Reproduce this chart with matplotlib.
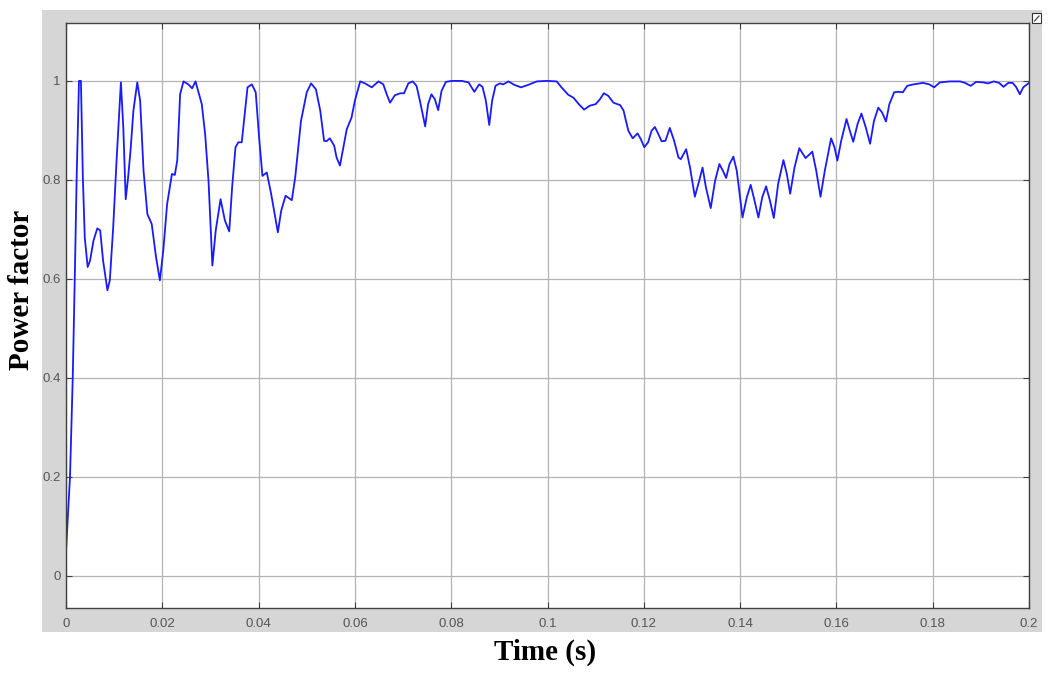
import matplotlib
matplotlib.use("Agg")
import matplotlib.pyplot as plt
from matplotlib.patches import Rectangle
from matplotlib.lines import Line2D

# ---- data ----
time_s = [0.0000, 0.00083, 0.0014, 0.0019, 0.0022, 0.0027, 0.0031, 0.0035, 0.0039, 0.0045,
          0.0050, 0.0057, 0.0065, 0.0071, 0.0077, 0.0086, 0.0091, 0.0098, 0.0105, 0.0114,
          0.0119, 0.0124, 0.0129, 0.0134, 0.0140, 0.0148, 0.0154, 0.0161, 0.0169, 0.0178,
          0.0187, 0.0195, 0.0202, 0.0210, 0.0220, 0.0226, 0.0231, 0.0237, 0.0244, 0.0254,
          0.0262, 0.0269, 0.0282, 0.0289, 0.0296, 0.0304, 0.0311, 0.0321, 0.0330, 0.0339,
          0.0345, 0.0352, 0.0358, 0.0365, 0.0372, 0.0377, 0.0386, 0.0394, 0.0401, 0.0408,
          0.0417, 0.0426, 0.0440, 0.0447, 0.0456, 0.0469, 0.0476, 0.0488, 0.0500, 0.0509,
          0.0519, 0.0528, 0.0536, 0.0541, 0.0548, 0.0557, 0.0562, 0.0569, 0.0576, 0.0583,
          0.0593, 0.0600, 0.0611, 0.0621, 0.0635, 0.0649, 0.0659, 0.0666, 0.0673, 0.0683,
          0.0694, 0.0702, 0.0711, 0.0720, 0.0728, 0.0735, 0.0746, 0.0752, 0.0759, 0.0766,
          0.0773, 0.0780, 0.0789, 0.0801, 0.0822, 0.0836, 0.0848, 0.0858, 0.0865, 0.0872,
          0.0879, 0.0885, 0.0892, 0.0901, 0.0908, 0.0919, 0.0931, 0.0945, 0.0960, 0.0978,
          0.0998, 0.1019, 0.1029, 0.1043, 0.1054, 0.1065, 0.1076, 0.1088, 0.1100, 0.1109,
          0.1117, 0.1126, 0.1137, 0.1151, 0.1158, 0.1163, 0.1168, 0.1177, 0.1187, 0.1194,
          0.1201, 0.1209, 0.1216, 0.1223, 0.1230, 0.1237, 0.1245, 0.1254, 0.1263, 0.1272,
          0.1277, 0.1288, 0.1296, 0.1306, 0.1315, 0.1322, 0.1329, 0.1339, 0.1348, 0.1357,
          0.1364, 0.1371, 0.1378, 0.1386, 0.1393, 0.1398, 0.1405, 0.1414, 0.1422, 0.1430,
          0.1438, 0.1446, 0.1454, 0.1462, 0.1470, 0.1479, 0.1490, 0.1497, 0.1504, 0.1513,
          0.1523, 0.1536, 0.1550, 0.1558, 0.1567, 0.1576, 0.1589, 0.1596, 0.1602, 0.1610,
          0.1621, 0.1628, 0.1635, 0.1644, 0.1652, 0.1661, 0.1670, 0.1678, 0.1687, 0.1695,
          0.1703, 0.1710, 0.1720, 0.1729, 0.1738, 0.1747, 0.1760, 0.1780, 0.1793, 0.1803,
          0.1815, 0.1836, 0.1857, 0.1867, 0.1879, 0.1890, 0.1905, 0.1915, 0.1927, 0.1938,
          0.1947, 0.1957, 0.1966, 0.1973, 0.1981, 0.1988, 0.2000]

power_factor = [0.050, 0.200, 0.400, 0.640, 0.800, 1.000, 1.000, 0.805, 0.683, 0.624,
                0.637, 0.677, 0.702, 0.698, 0.637, 0.577, 0.597, 0.704, 0.839, 0.997,
                0.906, 0.761, 0.805, 0.859, 0.940, 0.997, 0.960, 0.819, 0.731, 0.711,
                0.644, 0.597, 0.657, 0.751, 0.812, 0.810, 0.839, 0.973, 0.999, 0.993,
                0.985, 0.999, 0.953, 0.892, 0.798, 0.627, 0.698, 0.761, 0.718, 0.696,
                0.785, 0.866, 0.876, 0.876, 0.940, 0.987, 0.993, 0.977, 0.886, 0.808,
                0.815, 0.772, 0.694, 0.738, 0.768, 0.759, 0.805, 0.919, 0.977, 0.995,
                0.983, 0.940, 0.879, 0.878, 0.884, 0.869, 0.845, 0.829, 0.866, 0.902,
                0.926, 0.960, 0.999, 0.995, 0.987, 0.999, 0.993, 0.973, 0.956, 0.971,
                0.975, 0.975, 0.995, 0.999, 0.990, 0.960, 0.908, 0.953, 0.973, 0.963,
                0.941, 0.980, 0.998, 1.000, 1.000, 0.997, 0.978, 0.993, 0.988, 0.960,
                0.911, 0.960, 0.990, 0.995, 0.993, 0.999, 0.992, 0.987, 0.992, 0.999,
                1.000, 0.999, 0.987, 0.972, 0.966, 0.953, 0.942, 0.950, 0.953, 0.963,
                0.975, 0.970, 0.956, 0.951, 0.940, 0.919, 0.899, 0.884, 0.894, 0.882,
                0.866, 0.876, 0.899, 0.907, 0.893, 0.878, 0.879, 0.905, 0.879, 0.845,
                0.842, 0.862, 0.825, 0.766, 0.798, 0.825, 0.785, 0.743, 0.798, 0.832,
                0.819, 0.804, 0.832, 0.847, 0.819, 0.780, 0.724, 0.765, 0.790, 0.758,
                0.724, 0.765, 0.787, 0.758, 0.723, 0.792, 0.840, 0.812, 0.772, 0.825,
                0.864, 0.844, 0.857, 0.819, 0.766, 0.819, 0.884, 0.866, 0.839, 0.879,
                0.923, 0.899, 0.877, 0.913, 0.934, 0.906, 0.873, 0.919, 0.946, 0.936,
                0.918, 0.953, 0.977, 0.978, 0.977, 0.990, 0.993, 0.996, 0.993, 0.987,
                0.997, 0.999, 0.999, 0.996, 0.990, 0.998, 0.997, 0.995, 0.999, 0.996,
                0.988, 0.996, 0.996, 0.988, 0.973, 0.987, 0.996]

x_ticks = [0, 0.02, 0.04, 0.06, 0.08, 0.1, 0.12, 0.14, 0.16, 0.18, 0.2]
x_tick_labels = ["0", "0.02", "0.04", "0.06", "0.08", "0.1", "0.12", "0.14", "0.16", "0.18", "0.2"]
y_ticks = [0, 0.2, 0.4, 0.6, 0.8, 1.0]
y_tick_labels = ["0", "0.2", "0.4", "0.6", "0.8", "1"]

W, H = 1055, 676
fig = plt.figure(figsize=(W / 100, H / 100), dpi=100)
fig.patch.set_facecolor("white")

# gray scope panel (drawn behind the axes)
fig.patches.append(Rectangle((42 / W, 44 / H), 1000 / W, 622 / H,
                             transform=fig.transFigure, facecolor="#d6d6d6",
                             edgecolor="none", zorder=-5))
# small icon in top-right corner
fig.patches.append(Rectangle((1032 / W, (H - 23) / H), 9 / W, 10 / H,
                             transform=fig.transFigure, facecolor="white",
                             edgecolor="#333333", linewidth=0.8, zorder=-4))
fig.lines.append(Line2D([1034.5 / W, 1039 / W], [(H - 21) / H, (H - 16) / H],
                        transform=fig.transFigure, color="#333333", linewidth=0.8,
                        zorder=-3))

ax = fig.add_axes([66 / W, (H - 608) / H, 963 / W, 585 / H])
ax.set_zorder(1)
ax.set_facecolor("white")
ax.plot(time_s, power_factor, color="#1a1aff", linewidth=1.3, solid_joinstyle="round")

ax.set_xlim(0, 0.2)
ax.set_ylim(-0.065, 1.117)
ax.set_xticks(x_ticks)
ax.set_xticklabels(x_tick_labels)
ax.set_yticks(y_ticks)
ax.set_yticklabels(y_tick_labels)

ax.grid(True, color="#b4b4b4", linewidth=0.9)
ax.set_axisbelow(True)
for s in ax.spines.values():
    s.set_color("#404040")
    s.set_linewidth(1.0)

tick_font = ["Liberation Sans Narrow", "Liberation Sans", "DejaVu Sans"]
ax.tick_params(axis="both", direction="in", length=4, width=0.8, color="#404040",
               labelcolor="#555555", labelsize=9.5, top=True, right=True)
ax.tick_params(axis="x", pad=7)
ax.tick_params(axis="y", pad=4)
for lab in ax.get_xticklabels() + ax.get_yticklabels():
    lab.set_family(tick_font)

fig.text(22 / W, 1 - 290 / H, "Power factor", rotation=90, ha="center", va="center",
         fontsize=21, fontweight="bold", family=["Liberation Serif", "DejaVu Serif"])
fig.text(545 / W, 1 - 652 / H, "Time (s)", ha="center", va="center",
         fontsize=21, fontweight="bold", family=["Liberation Serif", "DejaVu Serif"])

fig.savefig("out.png", dpi=100, facecolor="white")
